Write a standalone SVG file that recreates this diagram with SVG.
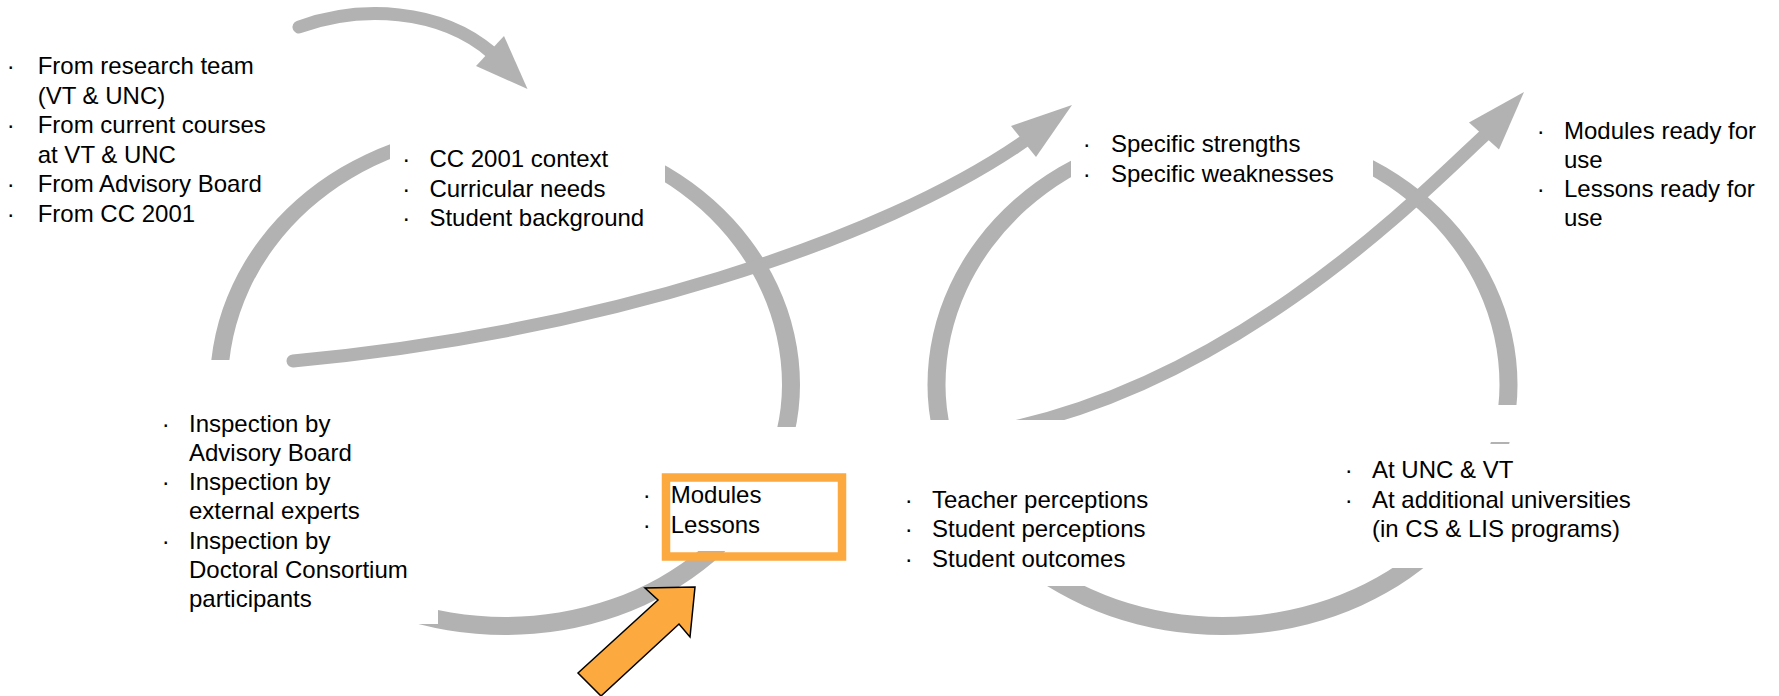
<svg xmlns="http://www.w3.org/2000/svg" width="1779" height="696" viewBox="0 0 1779 696">
<style>
.t{font-family:"Liberation Sans",Arial,sans-serif;font-size:24px;fill:#000}
.ring{fill:#b2b2b2;fill-rule:evenodd}
.shaft{fill:none;stroke:#b2b2b2;stroke-width:13}
.head{fill:#b2b2b2}
.box{fill:none;stroke:#fca93f;stroke-width:8.5}
.big{fill:#fca93f;stroke:#000;stroke-width:1.5;stroke-linejoin:miter}
</style>
<defs>
<mask id="cuts" maskUnits="userSpaceOnUse" x="0" y="0" width="1779" height="696">
<rect width="1779" height="696" fill="#fff"/>
<g fill="#000">
<rect x="390" y="60" width="275" height="240"/>
<rect x="150" y="360" width="288" height="264"/>
<rect x="636" y="427" width="224" height="124"/>
<rect x="890" y="420" width="440" height="166"/>
<rect x="1071" y="60" width="302" height="165"/>
<rect x="1330" y="405" width="230" height="37"/>
<rect x="1340" y="444" width="360" height="124"/>
</g>
</mask>
</defs>
<rect width="1779" height="696" fill="#fff"/>
<g id="connectors">
<g mask="url(#cuts)">
<path class="ring" d="M210 385A295 261.5 0 0 1 800 385A295 250 0 0 1 210 385ZM228 385A277 248.5 0 0 1 782 385A277 232 0 0 1 228 385Z"/>
<path class="ring" d="M927.5 385A295 261.5 0 0 1 1517.5 385A295 250 0 0 1 927.5 385ZM945.5 385A277 248.5 0 0 1 1499.5 385A277 232 0 0 1 945.5 385Z"/>
<path class="shaft" d="M1010 428C1250 375 1430 185 1486 134"/>
</g>
<polygon class="head" points="1469,122.5 1524,92 1499,149.5"/>
<path class="shaft" stroke-linecap="round" d="M293 361C600 332 880 242 1026 140"/>
<polygon class="head" points="1011,126 1072,105 1036,157"/>
<path class="shaft" stroke-linecap="round" d="M299 27C360 5 440 8 492 53"/>
<polygon class="head" points="476,66 504,36 527.5,89"/>
</g>
<g id="inputs" class="t">
<text x="6.7" y="74">·</text><text x="37.7" y="74">From research team</text>
<text x="37.7" y="103.6">(VT &amp; UNC)</text>
<text x="6.7" y="133.2">·</text><text x="37.7" y="133.2">From current courses</text>
<text x="37.7" y="162.8">at VT &amp; UNC</text>
<text x="6.7" y="192.4">·</text><text x="37.7" y="192.4">From Advisory Board</text>
<text x="6.7" y="222">·</text><text x="37.7" y="222">From CC 2001</text>
</g>
<g id="context" class="t">
<text x="402.3" y="167">·</text><text x="429.4" y="167">CC 2001 context</text>
<text x="402.3" y="196.7">·</text><text x="429.4" y="196.7">Curricular needs</text>
<text x="402.3" y="226.3">·</text><text x="429.4" y="226.3">Student background</text>
</g>
<g id="inspection" class="t">
<text x="161.7" y="431.5">·</text><text x="189" y="431.5">Inspection by</text>
<text x="189" y="460.8">Advisory Board</text>
<text x="161.7" y="490.1">·</text><text x="189" y="490.1">Inspection by</text>
<text x="189" y="519.4">external experts</text>
<text x="161.7" y="548.7">·</text><text x="189" y="548.7">Inspection by</text>
<text x="189" y="578">Doctoral Consortium</text>
<text x="189" y="607.3">participants</text>
</g>
<g id="product">
<rect class="box" x="666" y="477.5" width="176" height="79"/>
<g class="t">
<text x="642.7" y="502.7">·</text><text x="670.7" y="502.7">Modules</text>
<text x="642.7" y="532.7">·</text><text x="670.7" y="532.7">Lessons</text>
</g>
</g>
<g id="findings" class="t">
<text x="1082.7" y="152">·</text><text x="1111" y="152">Specific strengths</text>
<text x="1082.7" y="182">·</text><text x="1111" y="182">Specific weaknesses</text>
</g>
<g id="evaluation" class="t">
<text x="904.7" y="508.3">·</text><text x="932" y="508.3">Teacher perceptions</text>
<text x="904.7" y="537.3">·</text><text x="932" y="537.3">Student perceptions</text>
<text x="904.7" y="566.7">·</text><text x="932" y="566.7">Student outcomes</text>
</g>
<g id="deployment" class="t">
<text x="1344.7" y="478.3">·</text><text x="1372" y="478.3">At UNC &amp; VT</text>
<text x="1344.7" y="508.3">·</text><text x="1372" y="508.3">At additional universities</text>
<text x="1372" y="536.7">(in CS &amp; LIS programs)</text>
</g>
<g id="result" class="t">
<text x="1536.7" y="139.3">·</text><text x="1564" y="139.3">Modules ready for</text>
<text x="1564" y="168.3">use</text>
<text x="1536.7" y="197.3">·</text><text x="1564" y="197.3">Lessons ready for</text>
<text x="1564" y="226">use</text>
</g>
<g id="focus-arrow">
<polygon class="big" points="695,587 645,588 658,600 578,673 601,696 679,624 690,637"/>
</g>
</svg>
